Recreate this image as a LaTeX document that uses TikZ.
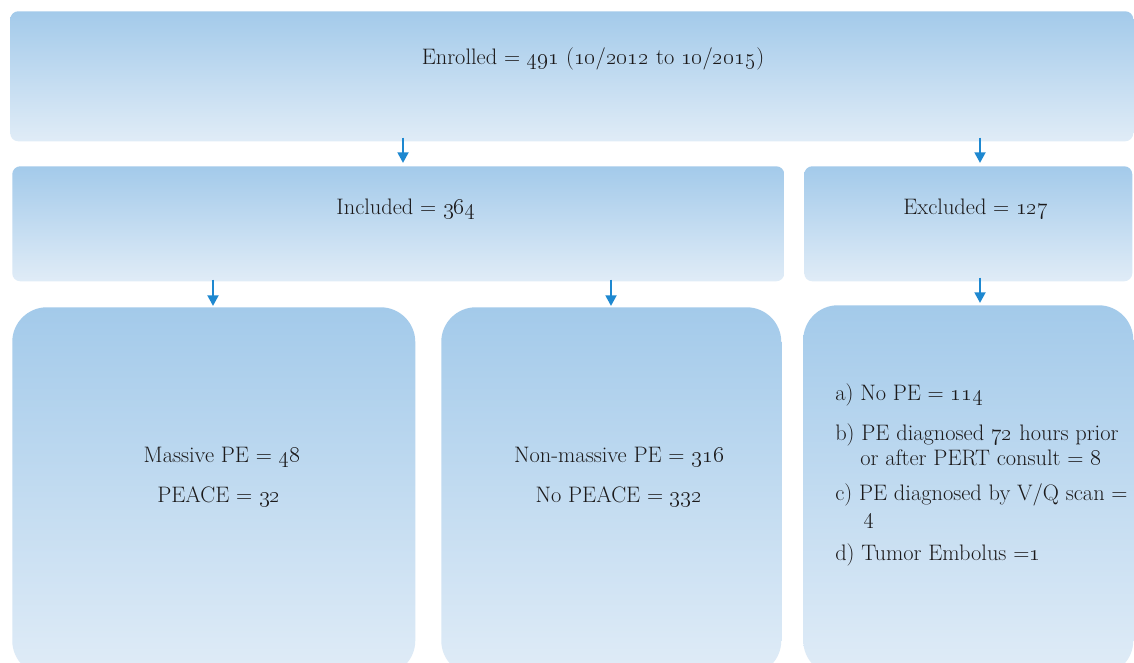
\documentclass[tikz,border=0pt]{standalone}
\usetikzlibrary{arrows.meta,calc}
\definecolor{boxtop}{RGB}{163,202,234}
\definecolor{boxbot}{RGB}{224,236,247}
\definecolor{arrowblue}{RGB}{30,136,208}
\definecolor{txt}{RGB}{28,26,27}
\newcommand\osn[1]{\oldstylenums{#1}}
\begin{document}
\begin{tikzpicture}[x=0.75pt,y=-0.75pt,
  box/.style={draw=none,top color=boxtop,bottom color=boxbot,inner sep=0pt,anchor=north west},
  lbl/.style={text=txt,font=\fontsize{16.8}{20}\selectfont,inner sep=0pt,anchor=base},
  lst/.style={text=txt,font=\fontsize{16.8}{20}\selectfont,inner sep=0pt,anchor=base west},
  arr/.style={draw=arrowblue,line width=2.2pt,-{Triangle[width=8pt,length=8pt]}}]
\clip (0,0) rectangle (1134,662);
\fill[white] (0,0) rectangle (1134,662);
% boxes
\node[box,rounded corners=6pt,minimum width={1123*0.75pt},minimum height={130*0.75pt}] (enr) at (10,11) {};
\node[box,rounded corners=6pt,minimum width={772*0.75pt},minimum height={115*0.75pt}] (inc) at (12,166) {};
\node[box,rounded corners=6pt,minimum width={328*0.75pt},minimum height={115*0.75pt}] (exc) at (804,166) {};
\node[box,rounded corners=26pt,minimum width={403*0.75pt},minimum height={368*0.75pt}] (mas) at (12,307) {};
\node[box,rounded corners=26pt,minimum width={340*0.75pt},minimum height={368*0.75pt}] (non) at (441,307) {};
\node[box,rounded corners=26pt,minimum width={330*0.75pt},minimum height={370*0.75pt}] (exd) at (803,305) {};
% texts
\node[lbl] (enrT) at (593,64) {Enrolled = \osn{491} (\osn{10}/\osn{2012} to \osn{10}/\osn{2015})};
\node[lbl] (incT) at (406,214) {Included = \osn{364}};
\node[lbl] (excT) at (976,214) {Excluded = \osn{127}};
\node[lbl] (masT1) at (222,462) {Massive PE = \osn{48}};
\node[lbl] (masT2) at (219,502) {PEACE = \osn{32}};
\node[lbl] (nonT1) at (619,462) {Non-massive PE = \osn{316}};
\node[lbl] (nonT2) at (619,502) {No PEACE = \osn{332}};
\node[lst] (la) at (835,400) {a) No PE = \osn{114}};
\node[lst] (lb1) at (835,440) {b) PE diagnosed \osn{72} hours prior};
\node[lst] (lb2) at (860,465) {or after PERT consult = \osn{8}};
\node[lst] (lc1) at (835,500) {c) PE diagnosed by V/Q scan =};
\node[lst] (lc2) at (863,523) {\osn{4}};
\node[lst] (ld) at (835,560) {d) Tumor Embolus =\osn{1}};
% arrows
\draw[arr] ($(enr.south west)+(393,-4)$) -- ($(inc.north west)+(391,-3)$);
\draw[arr] ($(enr.south west)+(970,-4)$) -- ($(exc.north west)+(176,-3)$);
\draw[arr] ($(inc.south west)+(201,-2)$) -- ($(mas.north west)+(201,-1)$);
\draw[arr] ($(inc.south west)+(599,-2)$) -- ($(non.north west)+(170,-1)$);
\draw[arr] ($(exc.south west)+(176,-4)$) -- ($(exd.north west)+(177,-2)$);
\end{tikzpicture}
\end{document}
